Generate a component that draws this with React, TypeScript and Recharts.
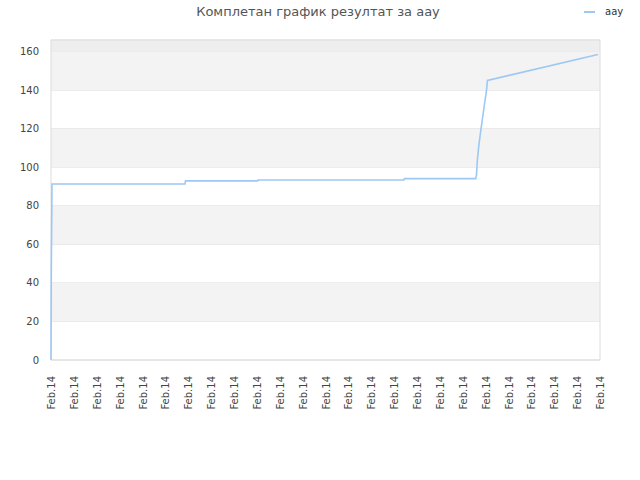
import React from "react"
import {
  CartesianGrid,
  Line,
  LineChart,
  ReferenceArea,
  XAxis,
  YAxis,
} from "recharts"

const title = "Комплетан график резултат за аау"
const seriesName = "aay"

// x is position along the time axis in tick units (0..24)
const xs = [
  0, 0.013, 0.044, 5.858, 5.88, 9.036, 9.05, 15.43, 15.45, 18.57, 18.6,
  18.64, 18.71, 18.8, 18.93, 19.04, 19.08, 23.91,
]
const values = [
  0, 46, 91.3, 91.3, 92.9, 92.9, 93.4, 93.4, 94.1, 94.1, 96, 104, 112,
  120, 131, 140, 145, 158.5,
]

const xTickLabels = Array(25).fill("Feb.14")
const xTicks = xTickLabels.map((_, i) => i)
const yTicks = [0, 20, 40, 60, 80, 100, 120, 140, 160]
const yMax = 166

const data = xs.map((x, i) => ({ x, aay: values[i] }))

const font = "'DejaVu Sans', sans-serif"
const lineColor = "#9dc8f4"

function XTick({ x, y, payload }: any) {
  return (
    <text
      transform={`translate(${x},${y + 8}) rotate(-90)`}
      textAnchor="end"
      dy={4}
      fontSize={10}
      fontFamily={font}
      fill="#444"
    >
      {xTickLabels[payload.value]}
    </text>
  )
}

export default function App() {
  return (
    <div style={{ position: "absolute", left: 0, top: 0, width: 640, height: 480, background: "#fff" }}>
      <div
        style={{
          position: "absolute",
          top: 4,
          left: 0,
          width: 636,
          textAlign: "center",
          fontFamily: font,
          fontSize: 13,
          color: "#555",
        }}
      >
        {title}
      </div>
      <div
        style={{
          position: "absolute",
          top: 6,
          left: 584,
          display: "flex",
          alignItems: "center",
          fontFamily: font,
          fontSize: 10,
          color: "#333",
        }}
      >
        <span style={{ display: "inline-block", width: 11, height: 2, background: lineColor, marginRight: 10 }} />
        {seriesName}
      </div>
      <LineChart
        width={640}
        height={480}
        data={data}
        margin={{ top: 40, right: 40, bottom: 70, left: 0 }}
      >
        {yTicks.map((t, i) =>
          i % 2 === 1 ? (
            <ReferenceArea
              key={t}
              x1={0}
              x2={24}
              y1={t}
              y2={yTicks[i + 1] ?? yMax}
              fill="#f3f3f3"
              fillOpacity={1}
              stroke="none"
            />
          ) : null
        )}
        <ReferenceArea
          x1={0}
          x2={24}
          y1={yTicks[yTicks.length - 1]}
          y2={yMax}
          fill="#eeeeee"
          fillOpacity={1}
          stroke="none"
        />
        <CartesianGrid vertical={false} stroke="#e2e2e2" />
        <ReferenceArea
          x1={0}
          x2={24}
          y1={0}
          y2={yMax}
          fill="none"
          stroke="#dcdcdc"
        />
        <XAxis
          dataKey="x"
          type="number"
          domain={[0, 24]}
          ticks={xTicks}
          interval={0}
          height={50}
          axisLine={false}
          tickLine={false}
          tick={<XTick />}
        />
        <YAxis
          type="number"
          domain={[0, yMax]}
          ticks={yTicks}
          width={51}
          axisLine={false}
          tickLine={false}
          tickSize={0}
          tickMargin={12}
          tick={{ fontSize: 10, fontFamily: font, fill: "#444" }}
        />
        <Line
          type="linear"
          dataKey="aay"
          name={seriesName}
          stroke={lineColor}
          strokeWidth={1.6}
          dot={false}
          isAnimationActive={false}
        />
      </LineChart>
    </div>
  )
}
